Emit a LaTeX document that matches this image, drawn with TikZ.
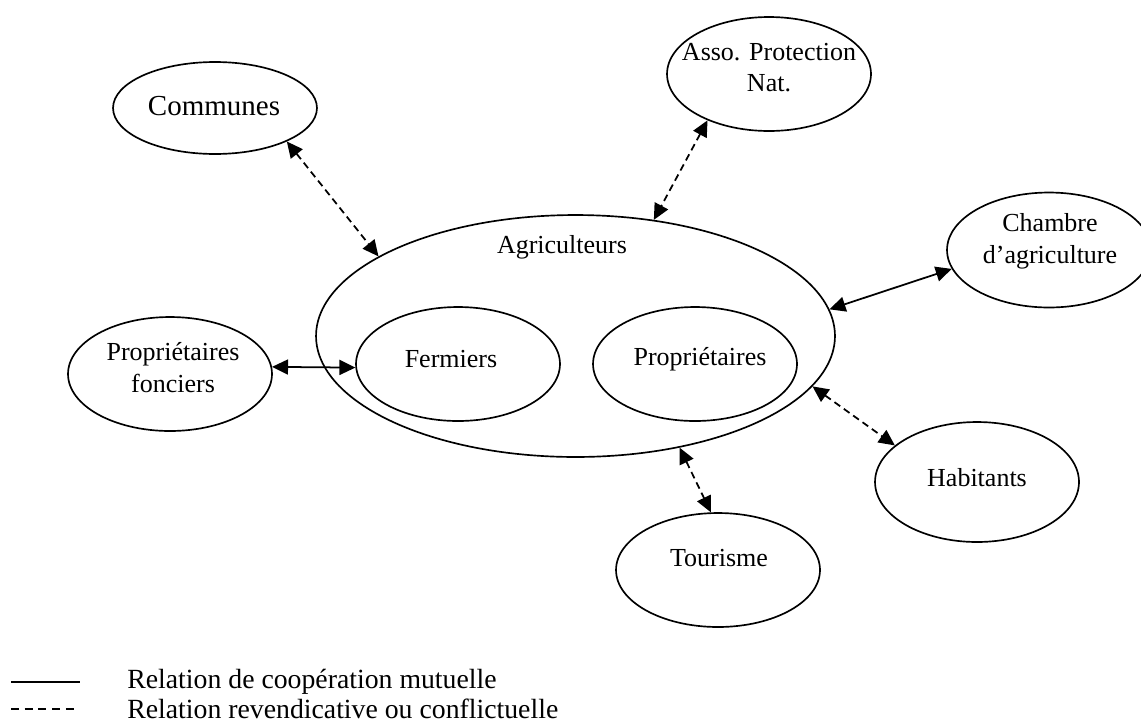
\documentclass[tikz,border=0pt]{standalone}
\usepackage{fontspec}
\setmainfont{Liberation Serif}
\usetikzlibrary{arrows.meta,shapes.geometric}

\begin{document}
\begin{tikzpicture}[x=0.02cm, y=-0.02cm,
    bulle/.style = {draw, ellipse, line width=0.95pt, inner sep=0pt, minimum width=4.08cm, minimum height=2.28cm},
    texte/.style = {align=center, inner sep=0pt, font=\fontsize{14.8}{18}\selectfont},
    coop/.style = {line width=1pt, {Triangle[length=3.2mm,width=3mm]}-{Triangle[length=3.2mm,width=3mm]}},
    conflit/.style = {coop, dash pattern=on 1.4mm off 0.9mm}]
    \useasboundingbox (0,0) rectangle (1141,724);

    % ellipses
    \node[bulle, minimum width=10.38cm, minimum height=4.84cm] (agri) at (575.5,336) {};
    \node[bulle] (ferm) at (458,364) {};
    \node[bulle] (prop) at (695,364) {};
    \node[bulle, minimum height=1.84cm] (comm) at (215,108) {};
    \node[bulle] (asso) at (769,74) {};
    \node[bulle, minimum height=2.3cm] (chamb) at (1049,250) {};
    \node[bulle] (fonc) at (170,374) {};
    \node[bulle, minimum height=2.4cm] (hab) at (977,482) {};
    \node[bulle] (tour) at (718,570) {};

    % textes
    \node[texte] (agritxt) at (562,247) {Agriculteurs};
    \node[texte] (fermtxt) at (451,359) {Fermiers};
    \node[texte] (proptxt) at (700,359) {Propriétaires};
    \node[texte, font=\fontsize{16.5}{20}\selectfont] (commtxt) at (214,106) {Communes};
    \node[texte] (assotxt) at (769,67.5) {Asso. Protection\\Nat.};
    \node[texte] (chambtxt) at (1050,241) {Chambre\\d’agriculture};
    \node[texte] (fonctxt) at (173,367.5) {Propriétaires\\fonciers};
    \node[texte] (habtxt) at (977,478) {Habitants};
    \node[texte] (tourtxt) at (719,558) {Tourisme};

    % relations
    \draw[conflit] (comm.-25) -- (agri.158);
    \draw[conflit] (asso.-143) -- (agri.56);
    \draw[coop] (chamb.191) -- (agri.6);
    \draw[coop] (fonc.4) -- (ferm.182);
    \draw[conflit] (agri.-12) -- (hab.156);
    \draw[conflit] (agri.-47) -- (tour.97);

    % legende
    \coordinate (s1) at (11,682);
    \coordinate (s2) at (80,682);
    \coordinate (d1) at (11,709);
    \coordinate (d2) at (74,709);
    \draw[line width=1pt] (s1) -- (s2);
    \draw[line width=0.8pt, dash pattern=on 1.6mm off 1.15mm] (d1) -- (d2);
    \node[texte, anchor=west, font=\fontsize{15.8}{18}\selectfont] (leg1) at (127,682) {Relation de coopération mutuelle};
    \node[texte, anchor=west, font=\fontsize{15.8}{18}\selectfont] (leg2) at (127,709) {Relation revendicative ou conflictuelle};
\end{tikzpicture}
\end{document}
